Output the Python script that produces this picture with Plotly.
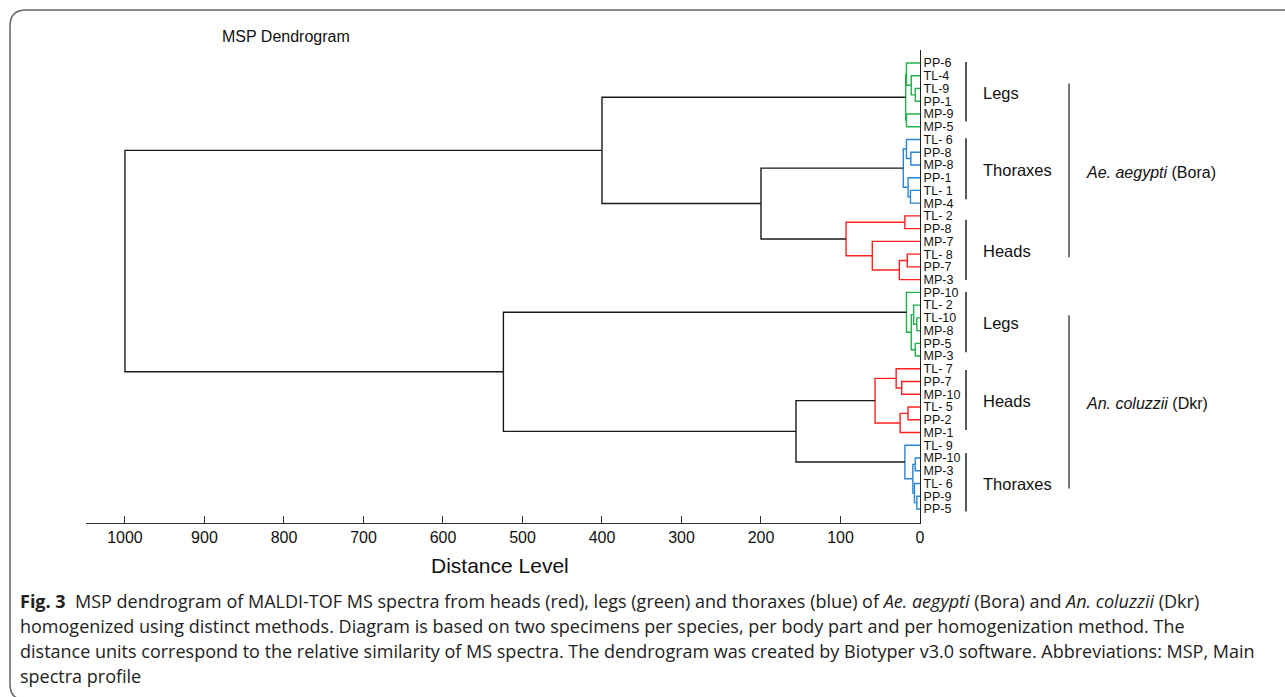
import plotly.graph_objects as go

# ---------------- data ----------------
leaf_labels = ["PP-6", "TL-4", "TL-9", "PP-1", "MP-9", "MP-5",
               "TL- 6", "PP-8", "MP-8", "PP-1", "TL- 1", "MP-4",
               "TL- 2", "PP-8", "MP-7", "TL- 8", "PP-7", "MP-3",
               "PP-10", "TL- 2", "TL-10", "MP-8", "PP-5", "MP-3",
               "TL- 7", "PP-7", "MP-10", "TL- 5", "PP-2", "MP-1",
               "TL- 9", "MP-10", "MP-3", "TL- 6", "PP-9", "PP-5"]

# merges (node id = 36 + position in these lists)
merge_left = [2, 1, 0, 4, 38,
              7, 6, 10, 9, 42,
              12, 15, 47, 14, 46, 45, 40,
              20, 19, 22, 54, 18,
              25, 24, 27, 60, 59,
              31, 34, 33, 63, 30, 62, 57, 52]
merge_right = [3, 36, 37, 5, 39,
               8, 41, 11, 43, 44,
               13, 16, 17, 48, 49, 50, 51,
               21, 53, 23, 55, 56,
               26, 58, 28, 29, 61,
               32, 35, 64, 65, 66, 67, 68, 69]
merge_height = [6, 11, 17, 17, 18,
                11.5, 17, 12, 15, 21,
                19, 16, 26, 60, 93, 200, 400,
                4, 8, 6, 11, 17,
                23, 30, 15, 25, 56.5,
                6, 4, 7, 9, 19, 156, 524, 1000]
merge_color = ["g", "g", "g", "g", "g",
               "b", "b", "b", "b", "b",
               "r", "r", "r", "r", "r", "k", "k",
               "g", "g", "g", "g", "g",
               "r", "r", "r", "r", "r",
               "b", "b", "b", "b", "b", "k", "k", "k"]

group_names = ["Legs", "Thoraxes", "Heads", "Legs", "Heads", "Thoraxes"]
group_start = [-0.08, 5.9, 12.3, 17.97, 24.1, 30.6]
group_end = [4.6, 10.7, 17.03, 22.7, 28.8, 35.2]

species_names = ["<i>Ae. aegypti</i> (Bora)", "<i>An. coluzzii</i> (Dkr)"]
species_start = [1.6, 19.8]
species_end = [15.25, 33.4]

x_ticks = [0, 100, 200, 300, 400, 500, 600, 700, 800, 900, 1000]

caption_lines = [
    "<b>Fig. 3</b>  MSP dendrogram of MALDI-TOF MS spectra from heads (red), legs (green) and thoraxes (blue) of <i>Ae. aegypti</i> (Bora) and <i>An. coluzzii</i> (Dkr)",
    "homogenized using distinct methods. Diagram is based on two specimens per species, per body part and per homogenization method. The",
    "distance units correspond to the relative similarity of MS spectra. The dendrogram was created by Biotyper v3.0 software. Abbreviations: MSP, Main",
    "spectra profile",
]

# ---------------- styling / geometry ----------------
W, H = 1285, 697
L, R, T, B = 86, 365, 50, 174
PW, PH = W - L - R, H - T - B
COLORS = {"g": "#22b14c", "b": "#2a86d4", "r": "#ff2020", "k": "#1a1a1a"}
ARIAL = "Liberation Sans, Arial, sans-serif"


def px2x(px):
    return (px - L) / PW


def px2y(py):
    return (H - B - py) / PH


# node positions
n_leaves = len(leaf_labels)
node_y = list(range(n_leaves))
node_h = [0.0] * n_leaves
segs = {k: ([], []) for k in COLORS}
for a, b, h, c in zip(merge_left, merge_right, merge_height, merge_color):
    ya, yb = node_y[a], node_y[b]
    xs, ys = segs[c]
    xs += [node_h[a], h, h, node_h[b], None]
    ys += [ya, ya, yb, yb, None]
    node_y.append((ya + yb) / 2)
    node_h.append(h)

fig = go.Figure()
for k, (xs, ys) in segs.items():
    fig.add_trace(go.Scatter(x=xs, y=ys, mode="lines",
                             line=dict(color=COLORS[k], width=1.4),
                             hoverinfo="skip", showlegend=False))

annotations = []
shapes = []

# group brackets + labels
for name, s, e in zip(group_names, group_start, group_end):
    shapes.append(dict(type="line", xref="paper", yref="y",
                       x0=px2x(966), x1=px2x(966), y0=s, y1=e,
                       line=dict(color="#222", width=1.5)))
    annotations.append(dict(x=px2x(981), y=(s + e) / 2 + 0.1, xref="paper", yref="y",
                            text=name, showarrow=False, xanchor="left", yanchor="middle",
                            font=dict(family=ARIAL, size=16.5, color="#111")))

# species brackets + labels
for name, s, e in zip(species_names, species_start, species_end):
    shapes.append(dict(type="line", xref="paper", yref="y",
                       x0=px2x(1069), x1=px2x(1069), y0=s, y1=e,
                       line=dict(color="#777", width=2)))
    annotations.append(dict(x=px2x(1084), y=(s + e) / 2 + 0.15, xref="paper", yref="y",
                            text=name, showarrow=False, xanchor="left", yanchor="middle",
                            font=dict(family=ARIAL, size=16, color="#111")))

# titles
annotations.append(dict(x=px2x(286), y=px2y(37), xref="paper", yref="paper",
                        text="MSP Dendrogram", showarrow=False,
                        xanchor="center", yanchor="middle",
                        font=dict(family=ARIAL, size=16, color="#111")))
annotations.append(dict(x=px2x(500), y=px2y(565), xref="paper", yref="paper",
                        text="Distance Level", showarrow=False,
                        xanchor="center", yanchor="middle",
                        font=dict(family=ARIAL, size=21, color="#111")))

# caption
for j, line in enumerate(caption_lines):
    annotations.append(dict(x=px2x(18), y=px2y(601 + 25 * j), xref="paper", yref="paper",
                            text=line, showarrow=False, xanchor="left", yanchor="middle",
                            font=dict(family="Open Sans, Noto Sans, sans-serif", size=18, color="#222")))

# rounded frame
path = "M {} {} L {} {} Q {} {} {} {} L {} {} Q {} {} {} {}".format(
    px2x(1290), px2y(10), px2x(26), px2y(10),
    px2x(10), px2y(10), px2x(10), px2y(26),
    px2x(10), px2y(684), px2x(10), px2y(700), px2x(26), px2y(700))
shapes.append(dict(type="path", xref="paper", yref="paper", path=path,
                   line=dict(color="#666", width=1.5)))

fig.update_layout(
    width=W, height=H,
    margin=dict(l=L, r=R, t=T, b=B, pad=0),
    paper_bgcolor="white", plot_bgcolor="white",
    xaxis=dict(range=[1049, 0], showgrid=False, zeroline=False,
               showline=True, linecolor="#333", linewidth=1.3,
               ticks="inside", ticklen=7, tickcolor="#333", tickwidth=1.2,
               tickvals=x_ticks, ticktext=[str(v) for v in x_ticks],
               tickfont=dict(family=ARIAL, size=16, color="#111")),
    yaxis=dict(range=[36.1, -1.02], side="right", showgrid=False, zeroline=False,
               showline=True, linecolor="#222", linewidth=1.2,
               ticks="", tickvals=list(range(n_leaves)), ticktext=leaf_labels,
               tickfont=dict(family=ARIAL, size=12.5, color="#111")),
    annotations=annotations,
    shapes=shapes,
    showlegend=False,
)

fig.write_html("out.html")
